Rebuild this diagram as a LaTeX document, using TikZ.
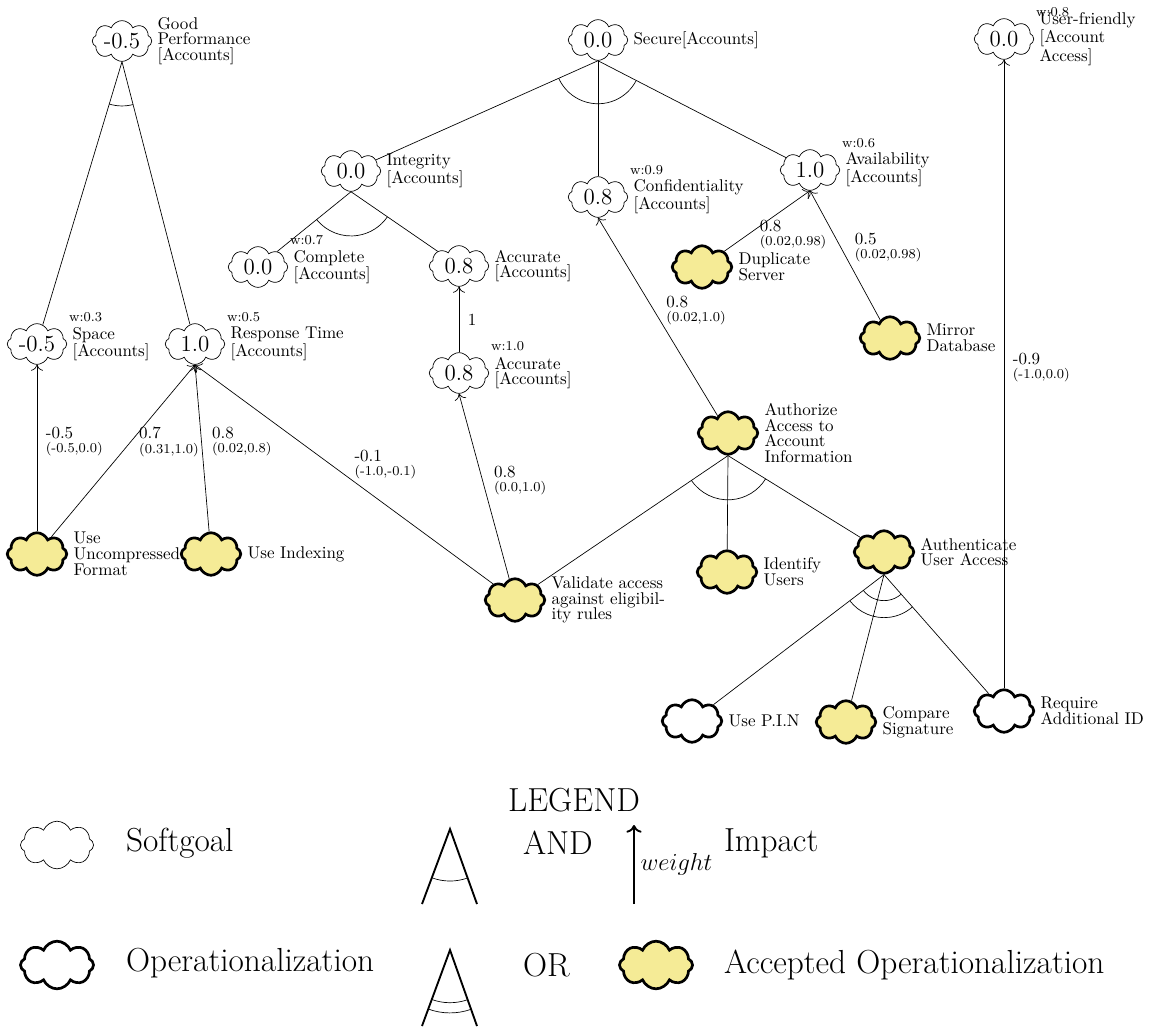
\documentclass[tikz,border=0pt]{standalone}
\usetikzlibrary{shapes.symbols,positioning,calc,arrows.meta}
\definecolor{acceptfill}{RGB}{245,235,150}
% impact value over its range
\newcommand{\impval}[2]{#1\\{\footnotesize #2}}
% arc across the links of a decomposition
\newcommand{\decomparc}[4]{%
    \draw let \p1=($(#2)-(#1)$), \p2=($(#3)-(#1)$),
        \n1={atan2(\y1,\x1)}, \n2={atan2(\y2,\x2)} in
        ($(#1)+(\n1:#4)$) arc[start angle=\n1, end angle=\n2, radius=#4];
}
\tikzset{
    softgoal/.style={
        draw,
        shape=cloud,
        cloud puffs=8,
        cloud puff arc=135,
        cloud ignores aspect,
        minimum width=35pt,
        minimum height=24pt,
        inner sep=0pt,
        fill=white,
        font=\fontsize{13.5}{15}\selectfont
    },
    oper/.style={
        softgoal,
        line width=1.6pt,
        minimum width=35pt,
        minimum height=25pt
    },
    accepted/.style={
        oper,
        fill=acceptfill
    },
    desc/.style={
        align=left,
        inner sep=0pt,
        font=\fontsize{10}{9.3}\selectfont
    },
    wlabel/.style={
        inner sep=0pt,
        font=\footnotesize
    },
    implabel/.style={
        align=left,
        inner sep=0pt,
        font=\fontsize{10}{8.5}\selectfont
    },
    legendtext/.style={
        anchor=west,
        font=\fontsize{19.6}{22}\selectfont
    },
}

\begin{document}
\begin{tikzpicture}[x=0.5882pt, y=-0.5882pt, >={To[length=3.5pt,width=7pt]}]
    \useasboundingbox (0,0) rectangle (1154,1030);
    % softgoals
    \node[softgoal] (gp) at (122,41) {-0.5};
    \node[softgoal] (sp) at (37,344) {-0.5};
    \node[softgoal] (rt) at (195,344) {1.0};
    \node[softgoal] (sec) at (598,40) {0.0};
    \node[softgoal] (integ) at (351,171) {0.0};
    \node[softgoal] (conf) at (598,197) {0.8};
    \node[softgoal] (avail) at (810,170) {1.0};
    \node[softgoal] (compl) at (258,267) {0.0};
    \node[softgoal] (accu) at (459,266) {0.8};
    \node[softgoal] (accl) at (459,373) {0.8};
    \node[softgoal] (uf) at (1004,39) {0.0};
    % operationalizations
    \node[accepted] (uuf) at (37,554) {};
    \node[accepted] (uidx) at (211,554) {};
    \node[accepted] (valid) at (515,600) {};
    \node[accepted] (auth) at (728,433) {};
    \node[accepted] (ident) at (727,572) {};
    \node[accepted] (authn) at (884,552) {};
    \node[oper] (pin) at (692,721) {};
    \node[accepted] (cmp) at (846,722) {};
    \node[oper] (reqid) at (1004,711) {};
    \node[accepted] (dup) at (702,267) {};
    \node[accepted] (mirror) at (890,338) {};

    % descriptions
    \node[desc, right=3pt of gp] (gpdesc) {Good\\Performance\\{[Accounts]}};
    \node[desc, right=3pt of sp] (spdesc) {Space\\{[Accounts]}};
    \node[desc, right=3pt of rt] (rtdesc) {Response Time\\{[Accounts]}};
    \node[desc, right=3pt of sec] (secdesc) {Secure[Accounts]};
    \node[desc, right=3pt of integ] (integdesc) {Integrity\\{[Accounts]}};
    \node[desc, right=3pt of conf] (confdesc) {Confidentiality\\{[Accounts]}};
    \node[desc, right=3pt of avail] (availdesc) {Availability\\{[Accounts]}};
    \node[desc, right=3pt of compl] (compldesc) {Complete\\{[Accounts]}};
    \node[desc, right=3pt of accu] (accudesc) {Accurate\\{[Accounts]}};
    \node[desc, right=3pt of accl] (accldesc) {Accurate\\{[Accounts]}};
    \node[desc, right=3pt of uf] (ufdesc) {User-friendly\\{[Account}\\Access]};
    \node[desc, right=3pt of uuf] (uufdesc) {Use\\Uncompressed\\Format};
    \node[desc, right=3pt of uidx] (uidxdesc) {Use Indexing};
    \node[desc, right=3pt of valid] (validdesc) {Validate access\\against eligibil-\\ity rules};
    \node[desc, right=3pt of auth] (authdesc) {Authorize\\Access to\\Account\\Information};
    \node[desc, right=3pt of ident] (identdesc) {Identify\\Users};
    \node[desc, right=3pt of authn] (authndesc) {Authenticate\\User Access};
    \node[desc, right=3pt of pin] (pindesc) {Use P.I.N};
    \node[desc, right=3pt of cmp] (cmpdesc) {Compare\\Signature};
    \node[desc, right=3pt of reqid] (reqiddesc) {Require\\Additional ID};
    \node[desc, right=3pt of dup] (dupdesc) {Duplicate\\Server};
    \node[desc, right=3pt of mirror] (mirrordesc) {Mirror\\Database};

    % weights
    \node[wlabel, right=1pt of sp.east, yshift=16pt] (spw) {w:0.3};
    \node[wlabel, right=1pt of rt.east, yshift=16pt] (rtw) {w:0.5};
    \node[wlabel, right=1pt of conf.east, yshift=16pt] (confw) {w:0.9};
    \node[wlabel, right=1pt of avail.east, yshift=16pt] (availw) {w:0.6};
    \node[wlabel, right=1pt of compl.east, yshift=16pt] (complw) {w:0.7};
    \node[wlabel, right=1pt of accl.east, yshift=16pt] (acclw) {w:1.0};
    \node[wlabel, right=1pt of uf.east, yshift=16pt] (ufw) {w:0.8};

    % decompositions
    \draw (gp.south) -- (sp);
    \draw (gp.south) -- (rt);
    \decomparc{gp.south}{sp}{rt}{26pt}
    \draw (sec.south) -- (integ);
    \draw (sec.south) -- (conf);
    \draw (sec.south) -- (avail);
    \decomparc{sec.south}{integ}{avail}{25.3pt}
    \draw (integ.south) -- (compl);
    \draw (integ.south) -- (accu);
    \decomparc{integ.south}{compl}{accu}{26pt}
    \draw (auth.south) -- (valid);
    \draw (auth.south) -- (ident);
    \draw (auth.south) -- (authn);
    \decomparc{auth.south}{valid}{authn}{26pt}
    \draw (authn.south) -- (pin);
    \draw (authn.south) -- (cmp);
    \draw (authn.south) -- (reqid);
    \decomparc{authn.south}{pin}{reqid}{15.3pt}
    \decomparc{authn.south}{pin}{reqid}{25.3pt}

    % contributions
    \draw[->] (uuf) -- node[implabel, pos=0.54, right=5pt] {\impval{-0.5}{(-0.5,0.0)}} (sp.south);
    \draw[->] (uuf) -- node[implabel, pos=0.55, right=5pt] {\impval{0.7}{(0.31,1.0)}} (rt.south);
    \draw[->] (uidx) -- node[implabel, pos=0.54, right=6pt] {\impval{0.8}{(0.02,0.8)}} (rt.south);
    \draw[->] (valid) -- node[implabel, pos=0.47, above right=1pt] {\impval{-0.1}{(-1.0,-0.1)}} (rt.south);
    \draw[->] (valid) -- node[implabel, pos=0.53, right=6.5pt] {\impval{0.8}{(0.0,1.0)}} (accl.south);
    \draw[->] (accl.north) -- node[implabel, midway, right=5pt] {1} (accu.south);
    \draw[->] (dup) -- node[implabel, pos=0.28, right=6.5pt] {\impval{0.8}{(0.02,0.98)}} (avail.south);
    \draw[->] (mirror) -- node[implabel, pos=0.56, right=8pt] {\impval{0.5}{(0.02,0.98)}} (avail.south);
    \draw[->] (auth) -- node[implabel, pos=0.53, right=7pt] {\impval{0.8}{(0.02,1.0)}} (conf.south);
    \draw[->] (reqid.north) -- node[implabel, pos=0.51, right=5pt] {\impval{-0.9}{(-1.0,0.0)}} (uf.south);

    % legend
    \node[font=\fontsize{19.6}{22}\selectfont] (legend) at (574,800) {LEGEND};
    \node[softgoal, minimum width=43pt, minimum height=28pt] (lsoft) at (57,845) {};
    \node[legendtext] (lsofttxt) at (120,843) {Softgoal};
    \node[oper, minimum width=43pt, minimum height=28pt] (loper) at (57,965) {};
    \node[legendtext] (lopertxt) at (120,963) {Operationalization};
    \coordinate (andtop) at (450,829);
    \coordinate (andl) at (422,904);
    \coordinate (andr) at (477,904);
    \draw[line width=1.1pt] (andl) -- (andtop) -- (andr);
    \decomparc{andtop}{andl}{andr}{30.6pt}
    \node[legendtext] (andtxt) at (517,843) {AND};
    \coordinate (ortop) at (450,950);
    \coordinate (orl) at (422,1026);
    \coordinate (orr) at (477,1026);
    \draw[line width=1.1pt] (orl) -- (ortop) -- (orr);
    \decomparc{ortop}{orl}{orr}{31pt}
    \decomparc{ortop}{orl}{orr}{37pt}
    \node[legendtext] (ortxt) at (517,965) {OR};
    \coordinate (wbot) at (634,904);
    \coordinate (wtop) at (634,825);
    \draw[-{To[length=4.5pt,width=9pt]}, line width=1.1pt] (wbot) -- node[right, font=\Large] {$weight$} (wtop);
    \node[legendtext] (imptxt) at (718,843) {Impact};
    \node[accepted, minimum width=43pt, minimum height=28pt] (lacc) at (656,965) {};
    \node[legendtext] (acctxt) at (718,965) {Accepted Operationalization};
\end{tikzpicture}
\end{document}
